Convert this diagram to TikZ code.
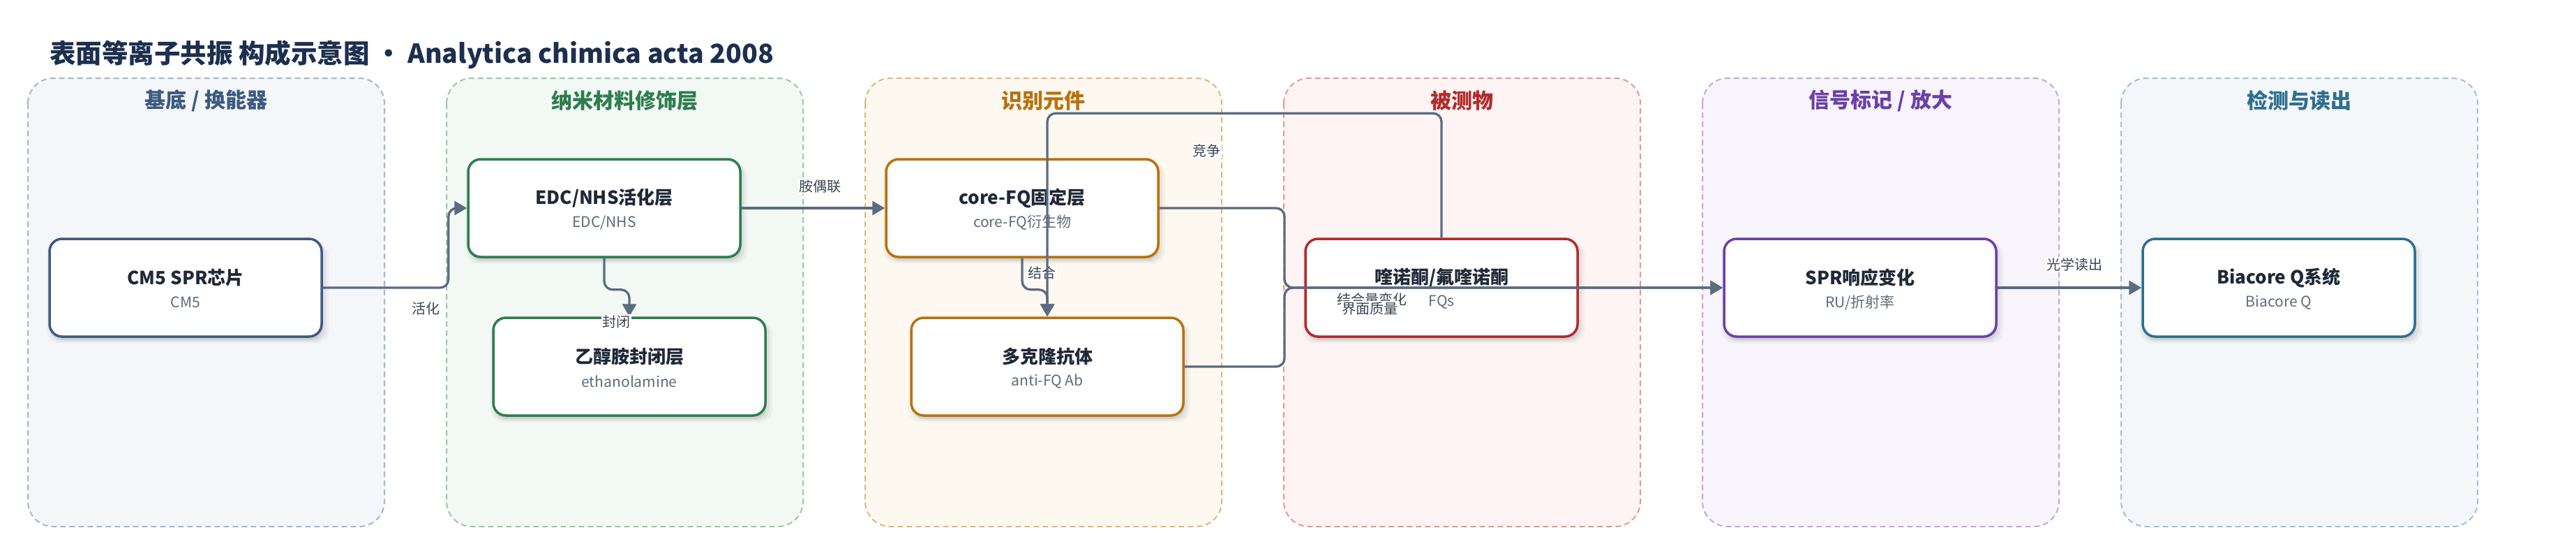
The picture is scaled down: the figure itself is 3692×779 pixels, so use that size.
\documentclass[tikz,border=0pt]{standalone}
\usepackage{fontspec}
\setmainfont{Noto Sans CJK SC}
\usetikzlibrary{arrows.meta,shadows,calc}
\definecolor{edgec}{HTML}{5B6B80}
\definecolor{titlec}{HTML}{1F2937}
\definecolor{subc}{HTML}{5F6B7A}
\definecolor{labc}{HTML}{3B4452}
\definecolor{headc}{HTML}{1C2F4F}
% lane colours
\definecolor{laneAf}{HTML}{F4F6FA}\definecolor{laneAd}{HTML}{A9B6C9}\definecolor{laneAt}{HTML}{3D5A80}
\definecolor{laneBf}{HTML}{F2F8F4}\definecolor{laneBd}{HTML}{9CC7A8}\definecolor{laneBt}{HTML}{2E7D4F}
\definecolor{laneCf}{HTML}{FDF8F0}\definecolor{laneCd}{HTML}{E0B87A}\definecolor{laneCt}{HTML}{B8720D}
\definecolor{laneDf}{HTML}{FDF4F3}\definecolor{laneDd}{HTML}{E09A98}\definecolor{laneDt}{HTML}{B22B2B}
\definecolor{laneEf}{HTML}{F7F4FB}\definecolor{laneEd}{HTML}{C1A8DC}\definecolor{laneEt}{HTML}{6B40A8}
\definecolor{laneFf}{HTML}{F3F7F9}\definecolor{laneFd}{HTML}{9FC3CF}\definecolor{laneFt}{HTML}{2F6F8F}
\tikzset{
  lanebox/.style 2 args={draw=#1, fill=#2, line width=2pt, dash pattern=on 8pt off 5pt, rounded corners=36pt},
  lanetitle/.style={font=\bfseries\fontsize{30}{34}\selectfont, text=#1, inner sep=0pt},
  box/.style={draw=#1, line width=3.5pt, fill=white, rounded corners=18pt,
    minimum width=390pt, minimum height=140pt, inner sep=0pt,
    general shadow={fill=black, opacity=0.035, shadow xshift=3pt, shadow yshift=-7pt, shadow scale=1.035},
    general shadow={fill=black, opacity=0.05, shadow xshift=3pt, shadow yshift=-6pt, shadow scale=1.015},
    general shadow={fill=black, opacity=0.07, shadow xshift=2pt, shadow yshift=-5pt}},
  ttl/.style={font=\bfseries\fontsize{26}{30}\selectfont, text=titlec, inner sep=0pt},
  sub/.style={font=\fontsize{21}{25}\selectfont, text=subc, inner sep=0pt},
  conn/.style={draw=edgec, line width=3.3pt, rounded corners=12pt, -{Triangle[length=18pt,width=20pt]}},
  elabel/.style={fill=white, inner sep=1.5pt, font=\fontsize{20}{24}\selectfont, text=labc},
}
\newcommand\mkbox[6]{%
  \node[box=#4] (#1) at (#2,#3) {};
  \node[ttl] (#1t) at ($(#1.center)+(0,-14)$) {#5};
  \node[sub] (#1s) at ($(#1.center)+(0,21)$) {#6};
}
\begin{document}
\begin{tikzpicture}[x=1pt,y=-1pt]
\useasboundingbox[fill=white] (0,0) rectangle (3692,779);
% title
\node[anchor=west, inner sep=0pt, text=headc, font=\bfseries\fontsize{37.5}{44}\selectfont] (title) at (71,78)
  {表面等离子共振 构成示意图 · Analytica chimica acta 2008};
% lanes
\path[lanebox={laneAd}{laneAf}] (40,112) rectangle (551,754);
\path[lanebox={laneBd}{laneBf}] (640,112) rectangle (1151,754);
\path[lanebox={laneCd}{laneCf}] (1240,112) rectangle (1751,754);
\path[lanebox={laneDd}{laneDf}] (1840,112) rectangle (2351,754);
\path[lanebox={laneEd}{laneEf}] (2440,112) rectangle (2951,754);
\path[lanebox={laneFd}{laneFf}] (3040,112) rectangle (3551,754);
\node[lanetitle=laneAt] (l1) at (295.5,144) {基底 / 换能器};
\node[lanetitle=laneBt] (l2) at (895.5,144) {纳米材料修饰层};
\node[lanetitle=laneCt] (l3) at (1495.5,144) {识别元件};
\node[lanetitle=laneDt] (l4) at (2095.5,144) {被测物};
\node[lanetitle=laneEt] (l5) at (2695.5,144) {信号标记 / 放大};
\node[lanetitle=laneFt] (l6) at (3295.5,144) {检测与读出};
% nodes
\mkbox{cm}{266}{412}{laneAt}{CM5 SPR芯片}{CM5}
\mkbox{edc}{866}{298}{laneBt}{EDC/NHS活化层}{EDC/NHS}
\mkbox{eth}{902}{525}{laneBt}{乙醇胺封闭层}{ethanolamine}
\mkbox{core}{1465}{298}{laneCt}{core-FQ固定层}{core-FQ衍生物}
\mkbox{ab}{1501}{525}{laneCt}{多克隆抗体}{anti-FQ Ab}
\mkbox{fq}{2066}{412}{laneDt}{喹诺酮/氟喹诺酮}{FQs}
\mkbox{spr}{2666}{412}{laneEt}{SPR响应变化}{RU/折射率}
\mkbox{bia}{3266}{412}{laneFt}{Biacore Q系统}{Biacore Q}
% connectors
\draw[conn] (cm.east) -- ++(180,0) |- (edc.west);
\node[elabel] (lab1) at (610,442) {活化};
\draw[conn] (edc.east) -- (core.west);
\node[elabel] (lab2) at (1175,267) {胺偶联};
\draw[conn] (edc.south) -- ++(0,45) -| (eth.north);
\node[elabel] (lab3) at (883,461) {封闭};
\draw[conn] (core.south) -- ++(0,45) -| (ab.north);
\node[elabel] (lab4) at (1493,391) {结合};
\draw[conn] (fq.north) -- ++(0,-178) -| (ab.north);
\node[elabel] (lab5) at (1729,216) {竞争};
\coordinate (mrg) at (1841,412);
\draw[conn] (core.east) -| (mrg) -- (spr.west);
\node[elabel] (lab6) at (1966,429) {结合量变化};
\draw[conn] (ab.east) -| (mrg) -- (spr.west);
\node[elabel] (lab7) at (1963,442) {界面质量};
\draw[conn] (spr.east) -- (bia.west);
\node[elabel] (lab8) at (2973,379) {光学读出};
\end{tikzpicture}
\end{document}
